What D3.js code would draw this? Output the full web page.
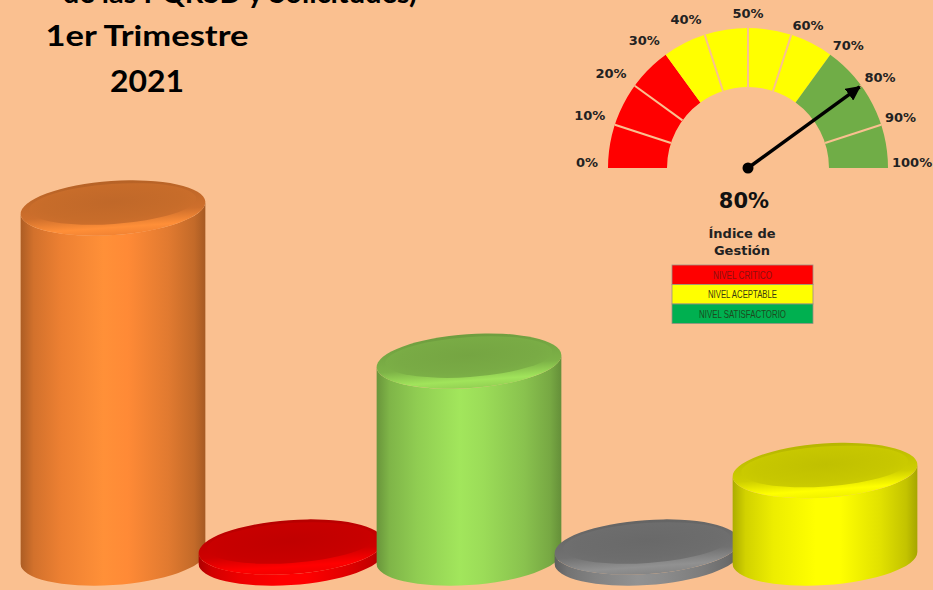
<!DOCTYPE html>
<html>
<head>
<meta charset="utf-8">
<script src="https://cdn.jsdelivr.net/npm/d3@7"></script>
<style>
  html, body { margin: 0; padding: 0; background: #FAC090; }
  svg { display: block; }
</style>
</head>
<body>
<svg id="chart" width="933" height="590"></svg>
<script>
// ---------------- DATA ----------------
const titleLines = ["de las PQRSD y Solicitudes)", "1er Trimestre", "2021"];
const categories = ["Peticiones", "Quejas", "Reclamos", "Sugerencias", "Denuncias"];
const values = [32, 1, 18, 1, 8];
const barColors = ["#FF8A36", "#FF0000", "#9BDC58", "#8C8C8C", "#FFFF00"];

const gaugeTicks = [0, 10, 20, 30, 40, 50, 60, 70, 80, 90, 100];
const gaugeBandLimits = [0, 30, 70, 100];
const gaugeBandColors = ["#FF0000", "#FFFF00", "#70AD47"];
const gaugeSeparators = [10, 20, 40, 50, 60, 80, 90];
const gaugeValue = 80;
const gaugeLabel = "80%";
const gaugeCaption = ["Índice de", "Gestión"];

const legendLabels = ["NIVEL CRITICO", "NIVEL ACEPTABLE", "NIVEL SATISFACTORIO"];
const legendColors = ["#FF0000", "#FFFF00", "#00B050"];
const legendTextColors = ["#8B1010", "#3A3A10", "#1E4A1E"];

// ---------------- SETUP ----------------
const W = 933, H = 590, BG = "#FAC090";
const svg = d3.select("#chart");
svg.append("rect").attr("width", W).attr("height", H).attr("fill", BG);
const defs = svg.append("defs");

// ---------------- TITLE ----------------
const tFont = "Lato, 'Open Sans', 'Liberation Sans', sans-serif";
svg.append("text").attr("x", 417).attr("y", 3).attr("text-anchor", "end")
  .attr("font-family", tFont).attr("font-weight", "bold").attr("font-size", 29)
  .attr("fill", "#000").text(titleLines[0]);
svg.append("text").attr("x", 147).attr("y", 46).attr("text-anchor", "middle")
  .attr("font-family", tFont).attr("font-weight", "bold").attr("font-size", 28)
  .attr("textLength", 203).attr("lengthAdjust", "spacingAndGlyphs")
  .attr("fill", "#000").text(titleLines[1]);
svg.append("text").attr("x", 147).attr("y", 92).attr("text-anchor", "middle")
  .attr("font-family", tFont).attr("font-weight", "bold").attr("font-size", 30)
  .attr("textLength", 74).attr("lengthAdjust", "spacingAndGlyphs")
  .attr("fill", "#000").text(titleLines[2]);

// ---------------- 3D CYLINDERS ----------------
const x = d3.scaleBand().domain(categories).range([24, 914]).padding(0);
const y = d3.scaleLinear().domain([0, 32]).range([558, 208]);
const ry = 27;
const phiDeg = -4;
const phi = phiDeg * Math.PI / 180;

function ellPoint(cx, cy, a, b, t) {
  return [cx + a * Math.cos(t) * Math.cos(phi) - b * Math.sin(t) * Math.sin(phi),
          cy + a * Math.cos(t) * Math.sin(phi) + b * Math.sin(t) * Math.cos(phi)];
}

categories.forEach((cat, i) => {
  const base = d3.color(barColors[i]);
  const a = x.bandwidth() * 1.04 / 2;
  const cx = x(cat) + x.bandwidth() / 2;
  const yTop = y(values[i]);
  const yBot = y(0);

  const gid = "side" + i;
  const g = defs.append("linearGradient").attr("id", gid)
    .attr("x1", 0).attr("x2", 1).attr("y1", 0).attr("y2", 0);
  [[0, base.darker(1.1)], [0.07, base.darker(0.55)], [0.22, base.darker(0.2)],
   [0.45, base.brighter(0.12)], [0.58, base], [0.8, base.darker(0.35)],
   [0.94, base.darker(0.75)], [1, base.darker(1.2)]]
    .forEach(([o, c]) => g.append("stop").attr("offset", o).attr("stop-color", c));

  const tid = "top" + i;
  const tg = defs.append("linearGradient").attr("id", tid)
    .attr("x1", 0).attr("x2", 0).attr("y1", 0).attr("y2", 1);
  [[0, base.darker(0.95)], [0.6, base.darker(0.6)], [0.86, base.brighter(0.1)], [1, base.darker(0.15)]]
    .forEach(([o, c]) => tg.append("stop").attr("offset", o).attr("stop-color", c));
  const iid = "inner" + i;
  const ig = defs.append("radialGradient").attr("id", iid)
    .attr("cx", 0.5).attr("cy", 0.45).attr("r", 0.6);
  [[0, base.darker(0.8)], [0.7, base.darker(0.7)], [1, base.darker(0.6)]]
    .forEach(([o, c]) => ig.append("stop").attr("offset", o).attr("stop-color", c));

  const t0 = Math.atan2(-ry * Math.sin(phi), a * Math.cos(phi));
  const rT = ellPoint(cx, yTop, a, ry, t0);
  const lT = ellPoint(cx, yTop, a, ry, t0 + Math.PI);
  const rB = ellPoint(cx, yBot, a, ry, t0);
  const lB = ellPoint(cx, yBot, a, ry, t0 + Math.PI);

  const gBar = svg.append("g").attr("class", "bar");
  const d = `M${lT[0]},${lT[1]} L${lB[0]},${lB[1]} ` +
    `A${a},${ry} ${phiDeg} 0 0 ${rB[0]},${rB[1]} ` +
    `L${rT[0]},${rT[1]} ` +
    `A${a},${ry} ${phiDeg} 0 1 ${lT[0]},${lT[1]} Z`;
  gBar.append("path").attr("d", d).attr("fill", `url(#${gid})`);

  gBar.append("ellipse").attr("cx", cx).attr("cy", yTop).attr("rx", a).attr("ry", ry)
    .attr("transform", `rotate(${phiDeg},${cx},${yTop})`)
    .attr("fill", `url(#${tid})`);
  gBar.append("ellipse").attr("cx", cx).attr("cy", yTop - 4).attr("rx", a - 9).attr("ry", ry - 7)
    .attr("transform", `rotate(${phiDeg},${cx},${yTop})`)
    .attr("fill", `url(#${iid})`);
});

// ---------------- GAUGE ----------------
const gcx = 748, gcy = 168, rIn = 81, rOut = 140;
const angle = d3.scaleLinear().domain([0, 100]).range([-Math.PI / 2, Math.PI / 2]);
const gauge = svg.append("g").attr("transform", `translate(${gcx},${gcy})`);
const arc = d3.arc().innerRadius(rIn).outerRadius(rOut);
gaugeBandColors.forEach((c, i) => {
  gauge.append("path")
    .attr("d", arc({ startAngle: angle(gaugeBandLimits[i]), endAngle: angle(gaugeBandLimits[i + 1]) }))
    .attr("fill", c);
});
gaugeSeparators.forEach(v => {
  const a = angle(v);
  gauge.append("line")
    .attr("x1", rIn * Math.sin(a)).attr("y1", -rIn * Math.cos(a))
    .attr("x2", rOut * Math.sin(a)).attr("y2", -rOut * Math.cos(a))
    .attr("stroke", BG).attr("stroke-width", 2);
});
gaugeTicks.forEach(v => {
  const a = angle(v);
  const r = v < 50 ? 150 : (v > 50 ? 144 : 149);
  const anchor = v < 50 ? "end" : (v > 50 ? "start" : "middle");
  gauge.append("text")
    .attr("x", r * Math.sin(a)).attr("y", -6 - r * Math.cos(a))
    .attr("text-anchor", anchor).attr("dominant-baseline", "central")
    .attr("font-family", "'DejaVu Sans', sans-serif").attr("font-weight", "bold")
    .attr("font-size", 13).attr("fill", "#222")
    .text(v + "%");
});
defs.append("marker").attr("id", "arrow").attr("viewBox", "0 0 10 10")
  .attr("refX", 9).attr("refY", 5).attr("markerWidth", 4.2).attr("markerHeight", 4.2)
  .attr("orient", "auto")
  .append("path").attr("d", "M0,0 L10,5 L0,10 Z").attr("fill", "#000");
const na = angle(gaugeValue);
gauge.append("line").attr("x1", 0).attr("y1", 0)
  .attr("x2", (rOut - 2) * Math.sin(na)).attr("y2", -(rOut - 2) * Math.cos(na))
  .attr("stroke", "#000").attr("stroke-width", 3.5).attr("marker-end", "url(#arrow)");
gauge.append("circle").attr("r", 5.5).attr("fill", "#000");

svg.append("text").attr("x", 744).attr("y", 208).attr("text-anchor", "middle")
  .attr("font-family", "'DejaVu Sans', sans-serif").attr("font-weight", "bold")
  .attr("font-size", 21).attr("fill", "#111").text(gaugeLabel);
gaugeCaption.forEach((t, i) => {
  svg.append("text").attr("x", 742).attr("y", 238 + i * 17).attr("text-anchor", "middle")
    .attr("font-family", "'DejaVu Sans', sans-serif").attr("font-weight", "bold")
    .attr("font-size", 13).attr("fill", "#222").text(t);
});

// ---------------- LEGEND ----------------
const lx = 672, ly = 265, lw = 141, lh = 19.5;
const legend = svg.append("g");
const legendWidths = [59, 69, 87];
legendLabels.forEach((lab, i) => {
  legend.append("rect").attr("x", lx).attr("y", ly + i * lh).attr("width", lw).attr("height", lh)
    .attr("fill", legendColors[i]).attr("stroke", "#9a8f80").attr("stroke-width", 0.8);
  legend.append("text").attr("x", lx + lw / 2).attr("y", ly + i * lh + lh / 2 + 4)
    .attr("text-anchor", "middle")
    .attr("font-family", "'Liberation Sans Narrow', 'Liberation Sans', sans-serif")
    .attr("font-size", 11).attr("fill", legendTextColors[i])
    .attr("textLength", legendWidths[i]).attr("lengthAdjust", "spacingAndGlyphs")
    .text(lab);
});
</script>
</body>
</html>
